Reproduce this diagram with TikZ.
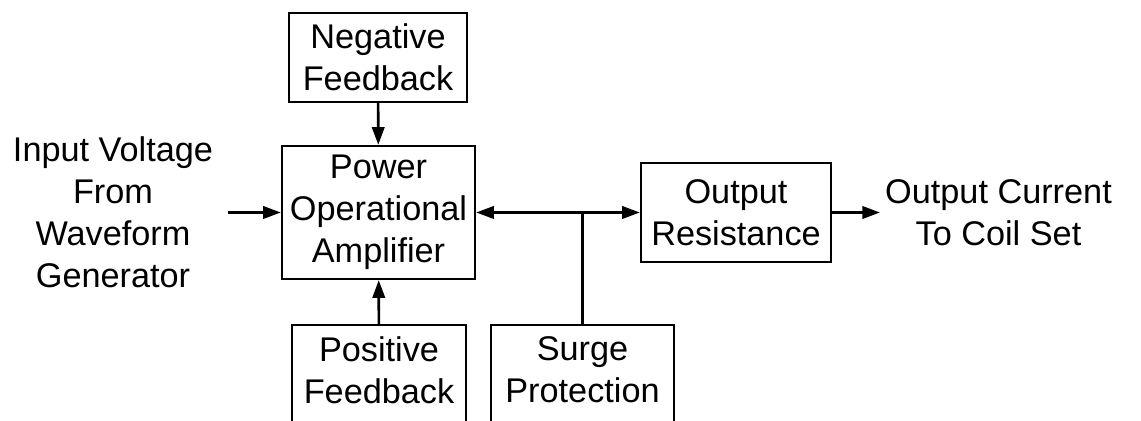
\documentclass[tikz,border=0pt]{standalone}
\usepackage{fontspec}
\setmainfont{Liberation Sans}
\usetikzlibrary{positioning,arrows.meta,calc}
\tikzset{
  block/.style={draw,line width=1.4pt,align=center,inner sep=2pt,
    font=\fontsize{19.5}{24}\selectfont},
  openblock/.style={block,draw=none},
  sidetext/.style={align=center,inner sep=0pt,font=\fontsize{19.5}{24}\selectfont},
}

\begin{document}
\begin{tikzpicture}[x=0.02cm,y=0.02cm,->,>={Triangle[length=10pt,width=7pt]},line width=1.5pt]
\useasboundingbox (0,0) rectangle (1141,421);
\clip (0,0) rectangle (1141,421);

\node[block,minimum width=3.56cm,minimum height=1.78cm] (neg) at (378,363.5) {Negative\\Feedback};
\node[block,minimum width=3.86cm,minimum height=2.66cm] (amp) at (378.5,208.5) {Power\\Operational\\Amplifier};
\node[block,minimum width=3.8cm,minimum height=1.98cm] (res) at (736,208.5) {Output\\Resistance};
\node[openblock,minimum width=3.44cm,minimum height=1.76cm] (pos) at (379,51) {Positive\\Feedback};
\node[openblock,minimum width=3.62cm,minimum height=1.76cm] (surge) at (582.5,51) {Surge\\Protection};
\node[sidetext] (vin) at (113,208.5) {Input Voltage\\From\\Waveform\\Generator};
\node[sidetext] (iout) at (998.5,208.5) {Output Current\\To Coil Set};

% open lower sides of the bottom blocks
\draw[-,line width=1.4pt] ([yshift=-20pt]pos.south west) -- (pos.north west) -- (pos.north east) -- ([yshift=-20pt]pos.south east);
\draw[-,line width=1.4pt] ([yshift=-20pt]surge.south west) -- (surge.north west) -- (surge.north east) -- ([yshift=-20pt]surge.south east);

\coordinate (inA) at (228,208.5);
\coordinate (outB) at (880,208.5);
\coordinate (j) at (surge.north |- amp.east);

\draw (inA) -- (amp);
\draw (neg) -- (amp);
\draw (pos) -- (amp);
\draw (j) -- (amp.east);
\draw (j) -- (res);
\draw[-] (surge) -- (j);
\draw (res) -- (outB);

\end{tikzpicture}
\end{document}
